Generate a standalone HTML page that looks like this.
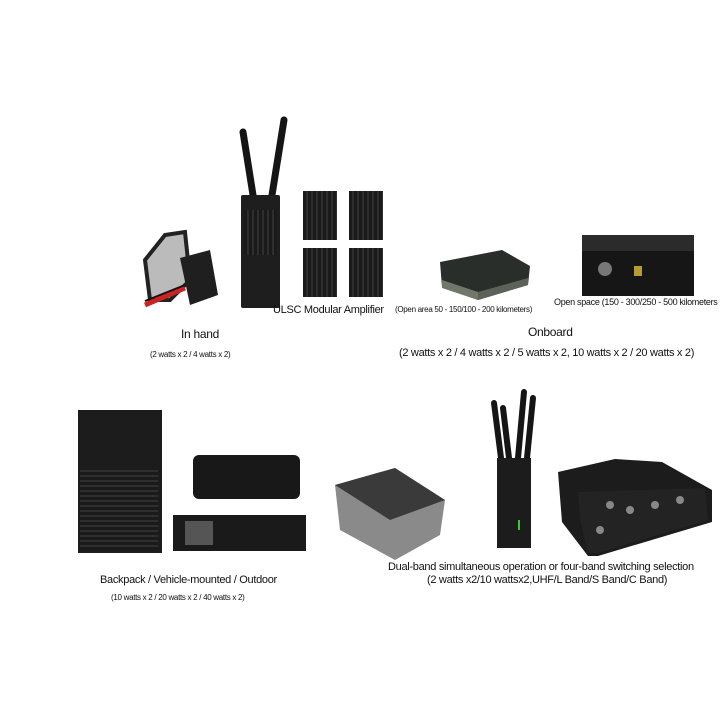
<!DOCTYPE html>
<html><head><meta charset="utf-8"><style>
body{margin:0;width:720px;height:720px;background:#fff;position:relative;overflow:hidden;font-family:"Liberation Sans",sans-serif;color:#111}
.a{position:absolute}
.t{position:absolute;white-space:nowrap;letter-spacing:-0.3px}
.fin{background:repeating-linear-gradient(90deg,#1a1a1a 0 3px,#2e2e2e 3px 5px)}
.finv{background:repeating-linear-gradient(0deg,#1a1a1a 0 3px,#2e2e2e 3px 5px)}
</style></head><body>
<svg class="a" style="left:0;top:0" width="720" height="720">
<line x1="243" y1="132" x2="253" y2="195" stroke="#151515" stroke-width="7" stroke-linecap="round"/>
<line x1="284" y1="120" x2="272" y2="195" stroke="#151515" stroke-width="7" stroke-linecap="round"/>
<polygon points="165,235 185,232 190,280 170,300 150,300 145,260" fill="#bbb" stroke="#222" stroke-width="4"/>
<polygon points="180,258 210,250 218,295 190,305" fill="#1f1f1f"/>
<line x1="145" y1="305" x2="185" y2="288" stroke="#c22" stroke-width="5"/>
<line x1="145" y1="301" x2="185" y2="285" stroke="#111" stroke-width="2"/>
<line x1="494" y1="403" x2="501" y2="458" stroke="#151515" stroke-width="6" stroke-linecap="round"/>
<line x1="503" y1="408" x2="509" y2="458" stroke="#151515" stroke-width="6" stroke-linecap="round"/>
<line x1="524" y1="392" x2="518" y2="458" stroke="#151515" stroke-width="6" stroke-linecap="round"/>
<line x1="533" y1="398" x2="527" y2="458" stroke="#151515" stroke-width="6" stroke-linecap="round"/>
<polygon points="558,472 615,459 662,462 712,490 712,522 598,556 588,556 562,522" fill="#1c1c1c"/>
<polygon points="578,492 705,488 708,520 598,553 588,553 580,520" fill="#232323"/>
<circle cx="610" cy="505" r="4" fill="#888"/><circle cx="630" cy="510" r="4" fill="#888"/><circle cx="655" cy="505" r="4" fill="#888"/><circle cx="680" cy="500" r="4" fill="#888"/><circle cx="600" cy="530" r="4" fill="#888"/>
<polygon points="335,485 395,468 445,500 440,535 395,560 340,530" fill="#8a8a8a"/>
<polygon points="335,485 395,468 445,500 390,520" fill="#3a3a3a"/>
<polygon points="440,262 502,250 530,266 528,285 478,300 442,287" fill="#2a2e2a"/>
<polygon points="442,280 478,292 478,300 442,288" fill="#6f786b"/>
<polygon points="478,292 528,278 528,285 478,300" fill="#5b6257"/>
</svg>
<div class="a" style="left:241px;top:195px;width:39px;height:113px;background:#1e1e1e;border-radius:2px"></div>
<div class="a fin" style="left:244px;top:210px;width:33px;height:45px"></div>
<div class="a fin" style="left:303px;top:191px;width:34px;height:49px"></div>
<div class="a fin" style="left:349px;top:191px;width:34px;height:49px"></div>
<div class="a fin" style="left:303px;top:248px;width:34px;height:49px"></div>
<div class="a fin" style="left:349px;top:248px;width:34px;height:49px"></div>
<div class="a" style="left:582px;top:235px;width:112px;height:16px;background:#2b2b2b"></div>
<div class="a" style="left:582px;top:251px;width:112px;height:45px;background:#161616"></div>
<div class="a" style="left:598px;top:262px;width:14px;height:14px;border-radius:50%;background:#777"></div>
<div class="a" style="left:634px;top:266px;width:8px;height:10px;background:#b93"></div>
<div class="a" style="left:78px;top:410px;width:84px;height:143px;background:#1c1c1c"></div>
<div class="a finv" style="left:80px;top:470px;width:78px;height:80px"></div>
<div class="a" style="left:193px;top:455px;width:107px;height:44px;background:#181818;border-radius:6px"></div>
<div class="a" style="left:173px;top:515px;width:133px;height:36px;background:#1a1a1a"></div>
<div class="a" style="left:185px;top:521px;width:28px;height:24px;background:#555"></div>
<div class="a" style="left:497px;top:458px;width:34px;height:90px;background:#1c1c1c"></div>
<div class="a" style="left:518px;top:520px;width:2px;height:10px;background:#3c3"></div>
<div class="t" style="left:273px;top:304px;font-size:11px">ULSC Modular Amplifier</div>
<div class="t" style="left:395px;top:305px;font-size:8px">(Open area 50 - 150/100 - 200 kilometers)</div>
<div class="t" style="left:554px;top:297px;font-size:9px">Open space (150 - 300/250 - 500 kilometers</div>
<div class="t" style="left:181px;top:327px;font-size:12px">In hand</div>
<div class="t" style="left:150px;top:350px;font-size:8px">(2 watts x 2 / 4 watts x 2)</div>
<div class="t" style="left:528px;top:325px;font-size:12px">Onboard</div>
<div class="t" style="left:399px;top:347px;font-size:11px">(2 watts x 2 / 4 watts x 2 / 5 watts x 2, 10 watts x 2 / 20 watts x 2)</div>
<div class="t" style="left:388px;top:561px;font-size:11px">Dual-band simultaneous operation or four-band switching selection</div>
<div class="t" style="left:427px;top:574px;font-size:11px">(2 watts x2/10 wattsx2,UHF/L Band/S Band/C Band)</div>
<div class="t" style="left:100px;top:574px;font-size:11px">Backpack / Vehicle-mounted / Outdoor</div>
<div class="t" style="left:111px;top:593px;font-size:8px">(10 watts x 2 / 20 watts x 2 / 40 watts x 2)</div>
</body></html>
